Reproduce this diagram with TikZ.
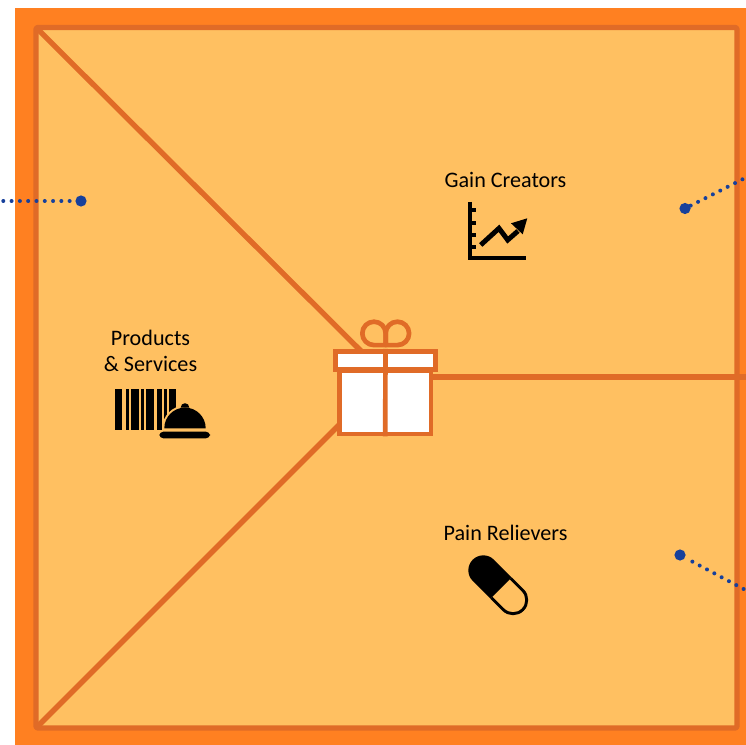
\documentclass[tikz,border=0pt]{standalone}
\usepackage{fontspec}
\setmainfont{Carlito}
\usepackage{tikz}
\usetikzlibrary{positioning}

\definecolor{outerOrange}{HTML}{FF8021}
\definecolor{innerOrange}{HTML}{FFC061}
\definecolor{edgeOrange}{HTML}{E06B27}
\definecolor{dotBlue}{HTML}{17409B}

\tikzset{
    edgeline/.style={draw=edgeOrange, line width=4pt, line join=round},
    giftpart/.style={draw=edgeOrange, fill=white, line width=3.5pt, inner sep=0pt},
    ribbon/.style={draw=edgeOrange, line width=3.5pt, line join=round},
    caption/.style={font=\fontsize{16.6}{19.5}\selectfont, align=center, text=black},
    bigdot/.style={circle, fill=dotBlue, minimum size=8.4pt, inner sep=0pt},
    dotline/.style={draw=dotBlue, line width=3pt, line cap=round, dash pattern=on 0pt off 6.22pt}
}

\begin{document}
\begin{tikzpicture}[x=0.75pt, y=-0.75pt]
    \useasboundingbox (0,0) rectangle (746,745);

    % Outer band and inner square
    \fill[outerOrange] (15,8) rectangle (746,745);
    \draw[edgeline, fill=innerOrange, rounded corners=1.5pt] (36,27.5) rectangle (737,728);

    % Corners and free ends
    \coordinate (cornerTop) at (36,27.5);
    \coordinate (cornerBottom) at (36,728);
    \coordinate (lidHit) at (361,351);
    \coordinate (boxHit) at (340,424);
    \coordinate (sideEnd) at (746,377);
    \coordinate (leftEnd) at (0,201);
    \coordinate (topEnd) at (746,177.5);
    \coordinate (lowEnd) at (746,590.3);

    % Dividing lines
    \draw[edgeline] (cornerTop) -- (lidHit);
    \draw[edgeline] (cornerBottom) -- (boxHit);

    % Gift
    \node[giftpart, minimum width=68.8pt, minimum height=47.3pt] (giftBox) at (385.2,402.5) {};
    \node[giftpart, minimum width=75pt, minimum height=13.9pt] (giftLid) at (385.5,360.5) {};
    \draw[edgeline] (giftBox.east |- sideEnd) -- (sideEnd);

    % Ribbon and bow
    \draw[ribbon] (giftLid.north) -- (giftBox.south);
    \draw[ribbon] (385.7,345.1) -- (374,345.1) arc (90:360:11.7) -- cycle;
    \draw[ribbon] (385.7,345.1) -- (397.4,345.1) arc (90:-180:11.7) -- cycle;

    % Labels
    \node[caption] (productsLabel) at (150.5,351) {Products\\\& Services};
    \node[caption] (gainLabel) at (505.5,180) {Gain Creators};
    \node[caption] (painLabel) at (505.5,533) {Pain Relievers};

    % Blue dots
    \node[bigdot] (leftDot) at (81,201) {};
    \node[bigdot] (topDot) at (685,208.5) {};
    \node[bigdot] (lowDot) at (680,555) {};
    \draw[dotline, dash phase=2.1pt] (leftDot) -- (leftEnd);
    \draw[dotline, dash phase=5.85pt] (topDot) -- (topEnd);
    \draw[dotline, dash phase=0.1pt] (lowDot) -- (lowEnd);

    % Barcode
    \foreach \xa/\xb in {115/122.3, 125.7/129.3, 130.7/138.7, 140.7/144.3, 146/154, 157/162, 164/166.7, 168.7/175.7}
        \fill[black] (\xa,389) rectangle (\xb,430);

    % Service bell
    \fill[innerOrange] (162.3,432) -- (162.3,428.3) arc (180:360:22.7) -- (207.7,432) -- cycle;
    \fill[black] (164.3,428.3) arc (180:360:20.7) -- cycle;
    \fill[black] (180.7,407.5) arc (180:360:4.3) -- cycle;
    \fill[black, rounded corners=3pt] (159.3,431.7) rectangle (210,438.3);

    % Chart
    \draw[black, line width=3pt] (470,202) -- (470,258.5) -- (526,258.5);
    \foreach \ya in {210,223.3,235,247.3}
        \draw[black, line width=3pt] (470,\ya) -- (476,\ya);
    \draw[black, line width=3.7pt] (480.7,245) -- (499,228.3) -- (507.7,240) -- (518,231);
    \fill[black] (511,223.3) -- (527.3,218.3) -- (522.7,234.3) -- cycle;

    % Pill
    \fill[black] (501,588) -- ++(-45:15) -- ++(-135:25) arc (-45:-225:15) -- ++(45:25) -- cycle;
    \draw[black, line width=2.2pt] (510.7,578.3) -- ++(45:17) arc (-45:135:13.7) -- ++(-135:17);
\end{tikzpicture}
\end{document}
